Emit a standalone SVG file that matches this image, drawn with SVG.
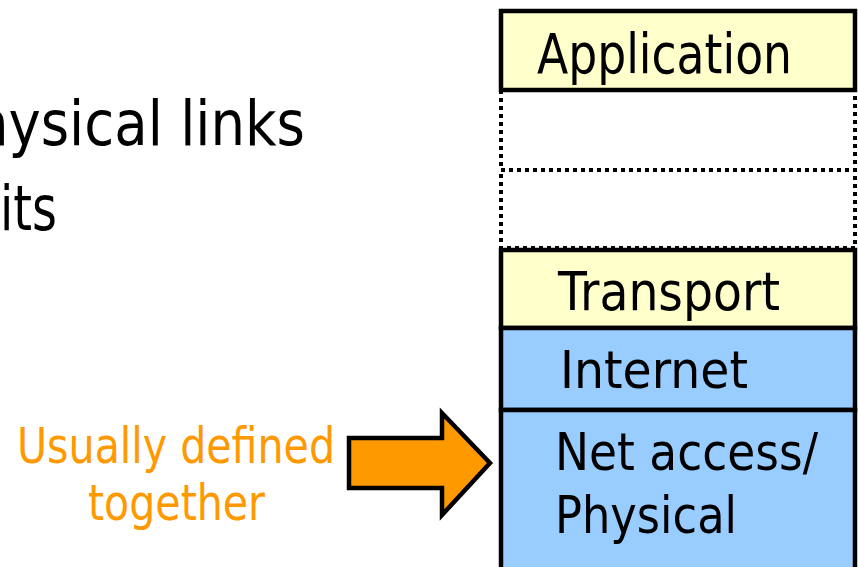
<svg xmlns="http://www.w3.org/2000/svg" width="858" height="567" viewBox="0 0 858 567">
<style>
.t{font-family:"DejaVu Sans","Liberation Sans",sans-serif;fill:#000}
.o{font-family:"DejaVu Sans","Liberation Sans",sans-serif;fill:#FF9900}
.y{fill:#FFFFCC;stroke:#000;stroke-width:4.5}
.b{fill:#99CCFF;stroke:#000;stroke-width:4.5}
.d{fill:#fff;stroke:#000;stroke-width:4;stroke-dasharray:4 4}
</style>
<rect width="858" height="567" fill="#fff"/>
<g id="side-text">
<text class="t" x="-59" y="145" font-size="63" textLength="364" lengthAdjust="spacingAndGlyphs">Physical links</text>
<text class="t" x="0" y="230" font-size="63" textLength="57" lengthAdjust="spacingAndGlyphs">its</text>
</g>
<g id="dotted1"><rect class="d" x="501" y="90" width="354" height="80"/></g>
<g id="dotted2"><rect class="d" x="501" y="170" width="354" height="78"/></g>
<g id="application">
<rect class="y" x="501" y="11" width="354" height="79"/>
<text class="t" x="537" y="73" font-size="55" textLength="255" lengthAdjust="spacingAndGlyphs">Application</text>
</g>
<g id="transport">
<rect class="y" x="501" y="250" width="354" height="78"/>
<text class="t" x="558" y="310" font-size="53" textLength="222" lengthAdjust="spacingAndGlyphs">Transport</text>
</g>
<g id="internet">
<rect class="b" x="501" y="328" width="354" height="82"/>
<text class="t" x="560" y="388" font-size="52" textLength="188" lengthAdjust="spacingAndGlyphs">Internet</text>
</g>
<g id="netaccess">
<rect class="b" x="501" y="410" width="354" height="170"/>
<text class="t" x="555" y="470" font-size="52" textLength="263" lengthAdjust="spacingAndGlyphs">Net access/</text>
<text class="t" x="555" y="533" font-size="52" textLength="182" lengthAdjust="spacingAndGlyphs">Physical</text>
</g>
<g id="label">
<text class="o" x="17" y="463" font-size="49" textLength="318" lengthAdjust="spacingAndGlyphs">Usually defined</text>
<text class="o" x="88" y="520" font-size="49" textLength="177" lengthAdjust="spacingAndGlyphs">together</text>
</g>
<g id="connectors">
<polygon points="349,438 442,438 442,413 490,463 442,515 442,488 349,488" fill="#FF9900" stroke="#000" stroke-width="4.5" stroke-linejoin="miter"/>
</g>
</svg>
